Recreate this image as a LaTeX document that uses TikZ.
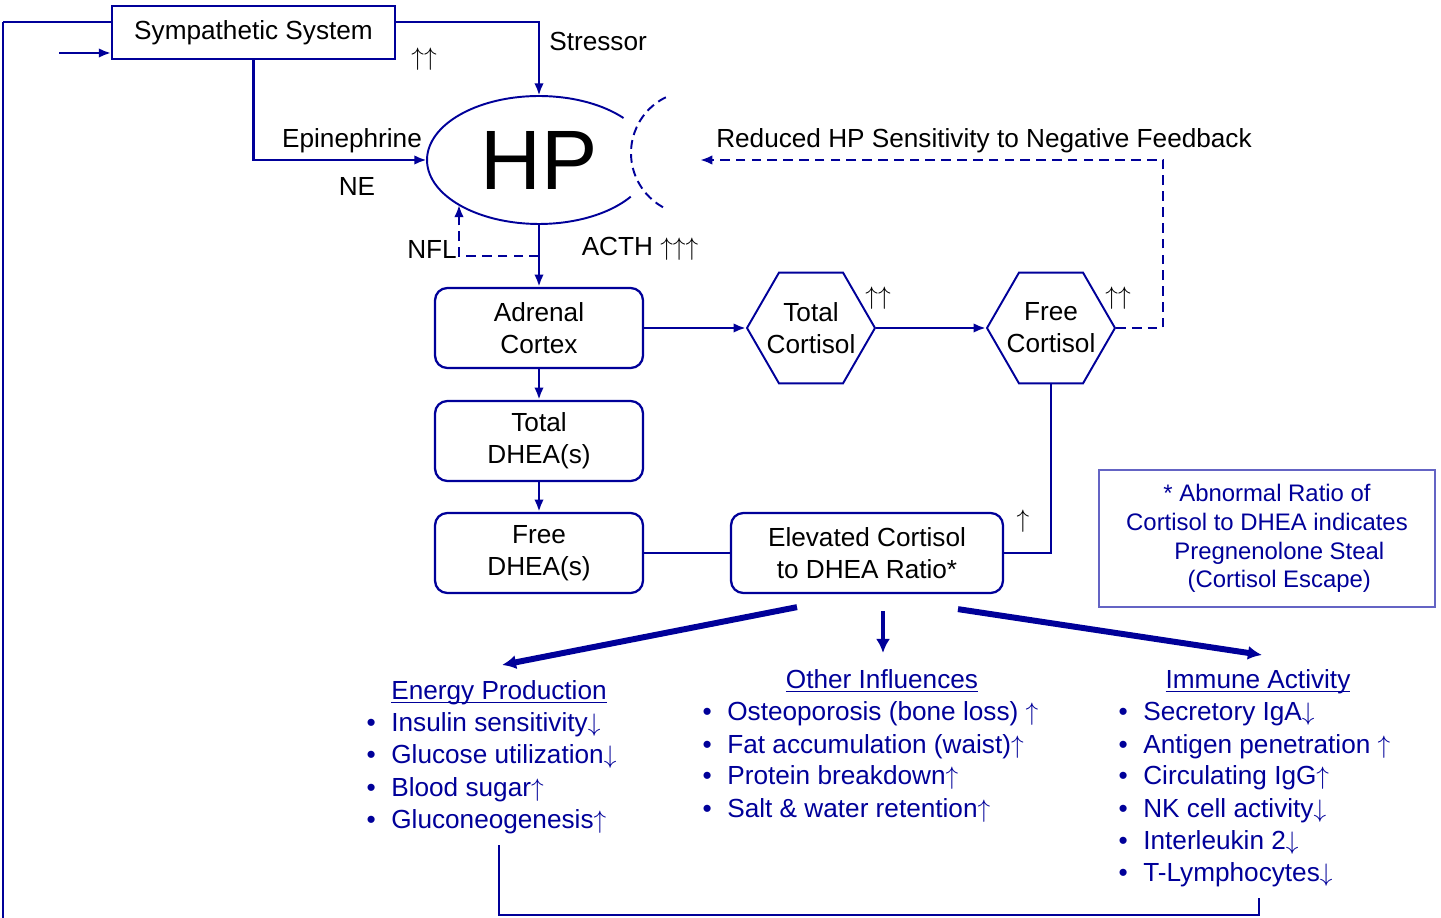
\documentclass[tikz,border=0pt]{standalone}
\usepackage{fontspec}
\setmainfont{Liberation Sans}
\usepackage{tikz}
\usetikzlibrary{arrows.meta}
\usetikzlibrary{shapes.geometric}
\usetikzlibrary{positioning}
\definecolor{hpblue}{RGB}{0,0,153}
\definecolor{notecol}{RGB}{100,100,196}
\newcommand\hpfont{\fontsize{14.9pt}{18.1pt}\selectfont}
\newcommand\hpbig{\fontsize{48pt}{48pt}\selectfont}
\newcommand\notefont{\fontsize{13.6pt}{16.4pt}\selectfont}
\newcommand\headline[1]{\sbox0{#1}\rlap{\rule[-1.7pt]{\wd0}{0.7pt}}\usebox0}
\newcommand\up{$\uparrow$}
\newcommand\dn{$\downarrow$}
\tikzset{link/.style = {draw=hpblue, line width=1.5pt}}
\tikzset{fb/.style = {link, dash pattern=on 5.5pt off 3.5pt}}
\tikzset{big/.style = {draw=hpblue, line width=3.4pt, -{Latex[length=8pt, width=8pt]}}}
\tikzset{box/.style = {draw=hpblue, line width=1.3pt, rounded corners=7pt, minimum width=4.16cm,
                       minimum height=1.6cm, align=center, inner sep=0}}
\tikzset{hexa/.style = {draw=hpblue, line width=1.1pt, regular polygon, regular polygon sides=6,
                        minimum size=2.56cm, inner sep=0}}
\tikzset{lbl/.style = {anchor=base, inner sep=0}}
\tikzset{head/.style = {anchor=base, text=hpblue, inner sep=0}}
\tikzset{item/.style = {anchor=base west, text=hpblue, inner sep=0}}

\begin{document}
\begin{tikzpicture}[x=0.02cm, y=-0.02cm, >={Latex[length=7pt, width=5.4pt]}, font=\hpfont]
    \useasboundingbox (0,0) rectangle (1441,918);

    \coordinate (loop) at (3,22);
    \coordinate (loopend) at (3,918);
    \coordinate (input) at (59,53);
    \coordinate (cut) at (693,153);
    \coordinate (nflc) at (459,256);
    \coordinate (fbtop) at (1163,160);
    \coordinate (fbtip) at (700,160);
    \coordinate (loopa) at (499,845);
    \coordinate (loopb) at (1259,898);

    \node [draw=hpblue, line width=1pt, minimum width=5.66cm, minimum height=1.06cm, inner sep=0]
        (symp) at (253.5,32.5) {Sympathetic System};
    \node [ellipse, minimum width=4.48cm, minimum height=2.56cm, inner sep=0, font=\hpbig]
        (hp) at (539,160) {HP};
    \draw [hpblue, line width=1.1pt] ([shift={(41:2.24cm and 1.28cm)}]hp.center)
        arc [start angle=41, end angle=325, x radius=2.24cm, y radius=1.28cm];
    \draw [hpblue, line width=1.1pt, dash pattern=on 5pt off 3pt] ([shift={(116:1.24cm)}]cut)
        arc [start angle=116, end angle=245, radius=1.24cm];

    \node [box] (adrenal) at (539,328) {Adrenal\\Cortex};
    \node [box] (tdhea) at (539,441) {Total\\DHEA(s)};
    \node [box] (fdhea) at (539,553) {Free\\DHEA(s)};
    \node [hexa, label={[align=center]center:Total\\Cortisol}] (tcort) at (811,328) {};
    \node [hexa, label={[align=center]center:Free\\Cortisol}] (fcort) at (1051,328) {};
    \node [box, minimum width=5.44cm] (ratio) at (867,553) {Elevated Cortisol\\to DHEA Ratio*};
    \node [draw=notecol, line width=0.7pt, minimum width=6.72cm, minimum height=2.74cm, inner sep=0,
           align=center, text=hpblue, font=\notefont] (note) at (1267,538.5)
        {* Abnormal Ratio of\\Cortisol to DHEA indicates\\\hspace*{14pt}Pregnenolone Steal\\\hspace*{14pt}(Cortisol Escape)};

    % labels
    \node [lbl, anchor=base west] (stressor) at (549,51) {Stressor};
    \node [lbl] (sympup) at (424,66) {\up\up};
    \node [lbl] (epi) at (352,148) {Epinephrine};
    \node [lbl] (ne) at (357,196) {NE};
    \node [lbl] (nfl) at (432,259) {NFL};
    \node [lbl] (acth) at (640,256) {ACTH \up\up\up};
    \node [lbl] (tcortup) at (878,305) {\up\up};
    \node [lbl] (fcortup) at (1118,305) {\up\up};
    \node [lbl] (ratioup) at (1023,528) {\up};
    \node [lbl] (reduced) at (984,148) {Reduced HP Sensitivity to Negative Feedback};

    \draw [link] (loop) -- (loopend);
    \draw [link] (loop) -- (loop -| symp.west);
    \draw [link, ->] (input) -- (input -| symp.west);
    \draw [link, ->] (symp.east |- loop) -| (hp.north);
    \draw [link, ->] (symp.south) |- (hp.west);
    \draw [link, ->] (hp.south) -- (adrenal.north);
    \draw [fb, ->] (hp.south |- nflc) -- (nflc) -- (nflc |- hp.209);
    \draw [link, ->] (adrenal.south) -- (tdhea.north);
    \draw [link, ->] (tdhea.south) -- (fdhea.north);
    \draw [link, ->] (adrenal.east) -- (tcort.west);
    \draw [link, ->] (tcort.east) -- (fcort.west);
    \draw [fb, ->] (fcort.east) -| (fbtop) -- (fbtip);
    \draw [link] (fcort.south) |- (ratio.east);
    \draw [link] (fdhea.east) -- (ratio.west);

    % effects
    \node [head] (energy) at (499,700) {\headline{Energy Production}};
    \node [head] (other) at (882,689) {\headline{Other Influences}};
    \node [head] (immune) at (1258,689) {\headline{Immune Activity}};
    \draw [big] ([shift={(-70,13)}]ratio.south) -- ([shift={(3,-35)}]energy.base);
    \draw [big, line width=2.3pt] ([shift={(16,17)}]ratio.south) -- ([shift={(1,-36)}]other.base);
    \draw [big] ([shift={(91,15)}]ratio.south) -- ([shift={(4,-34)}]immune.base);

    \foreach \txt [count=\i] in {Insulin sensitivity\dn, Glucose utilization\dn, Blood sugar\up, Gluconeogenesis\up}
        \node [item] (energy\i) at (391,700+32*\i) {\llap{•\hspace{8.8pt}}\txt};
    \foreach \txt [count=\i] in {Osteoporosis (bone loss) \up, Fat accumulation (waist)\up,
                                 Protein breakdown\up, Salt \& water retention\up}
        \node [item] (other\i) at (727,689+32*\i) {\llap{•\hspace{8.8pt}}\txt};
    \foreach \txt [count=\i] in {Secretory IgA\dn, Antigen penetration \up, Circulating IgG\up,
                                 NK cell activity\dn, Interleukin 2\dn, T-Lymphocytes\dn}
        \node [item] (immune\i) at (1143,689+32*\i) {\llap{•\hspace{8.8pt}}\txt};

    \draw [link] (loopa) -- ++(0,70) -| (loopb);
\end{tikzpicture}
\end{document}
